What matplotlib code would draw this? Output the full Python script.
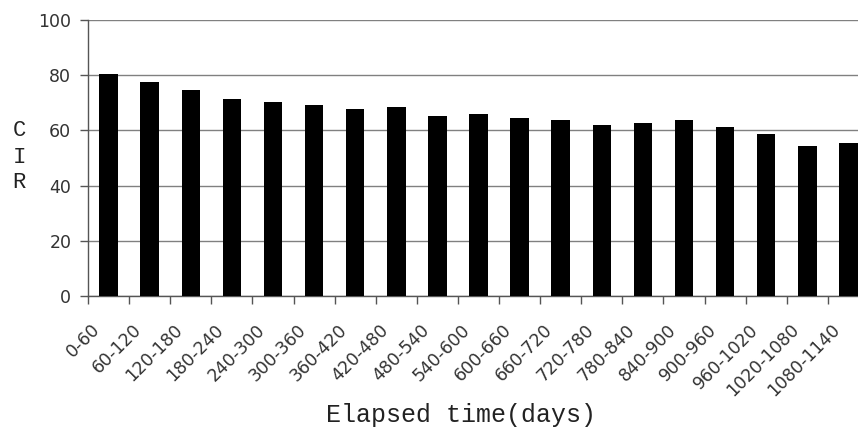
import matplotlib
matplotlib.use("Agg")
import matplotlib.pyplot as plt
from matplotlib.transforms import ScaledTranslation
import numpy as np

# Elapsed-time bins (days) and the corresponding CIR values
periods = ["0-60", "60-120", "120-180", "180-240", "240-300", "300-360",
           "360-420", "420-480", "480-540", "540-600", "600-660", "660-720",
           "720-780", "780-840", "840-900", "900-960", "960-1020",
           "1020-1080", "1080-1140"]
cir = [80.4, 77.6, 74.8, 71.5, 70.4, 69.1, 67.6, 68.4, 65.1, 65.9,
       64.4, 63.9, 61.8, 62.6, 63.9, 61.1, 58.7, 54.3, 55.3]
y_ticks = [0, 20, 40, 60, 80, 100]

W, H = 858, 430
fig = plt.figure(figsize=(W / 100, H / 100), dpi=100)
# plot area runs slightly past the right edge of the canvas
ax = fig.add_axes([88 / W, 134 / H, 781 / W, 276 / H])

x = np.arange(len(periods))
ax.bar(x, cir, width=0.45, color="black", zorder=3)

ax.set_xlim(-0.5, len(periods) - 0.5)
ax.set_ylim(0, 100)

# horizontal gridlines
ax.set_yticks(y_ticks)
ax.yaxis.grid(True, color="#808080", linewidth=1.0, zorder=0)
ax.set_axisbelow(True)

for side in ("top", "right"):
    ax.spines[side].set_visible(False)
for side in ("left", "bottom"):
    ax.spines[side].set_color("#555555")
    ax.spines[side].set_linewidth(1.0)

tick_font = "DejaVu Sans"
tick_size = 12.5

ax.tick_params(axis="y", direction="out", length=6, width=1.0,
               color="#555555", pad=6, labelsize=tick_size,
               labelcolor="#333333")
for lbl in ax.get_yticklabels():
    lbl.set_fontfamily(tick_font)

# category labels at bar centres, separator ticks between categories
ax.set_xticks(x)
ax.set_xticklabels(periods)
ax.set_xticks(np.arange(len(periods) + 1) - 0.5, minor=True)
ax.tick_params(axis="x", which="major", length=0, pad=0)
ax.tick_params(axis="x", which="minor", direction="out", length=6,
               width=1.0, color="#555555")
offset = ScaledTranslation(-0.11, -0.31, fig.dpi_scale_trans)
for lbl in ax.get_xticklabels():
    lbl.set_rotation(45)
    lbl.set_rotation_mode("anchor")
    lbl.set_ha("right")
    lbl.set_va("center")
    lbl.set_fontsize(tick_size)
    lbl.set_fontfamily(tick_font)
    lbl.set_color("#333333")
    lbl.set_transform(lbl.get_transform() + offset)

# axis titles in a typewriter face
fig.text(461 / W, 1 - 415 / H, "Elapsed time(days)", ha="center", va="center",
         fontfamily="Liberation Mono", fontsize=18, color="#222222")
for letter, ypix in zip("CIR", (131, 157, 183)):
    fig.text(19 / W, 1 - ypix / H, letter, ha="center", va="center",
             fontfamily="Liberation Mono", fontsize=16, color="#222222")

fig.savefig("out.png", dpi=100)
